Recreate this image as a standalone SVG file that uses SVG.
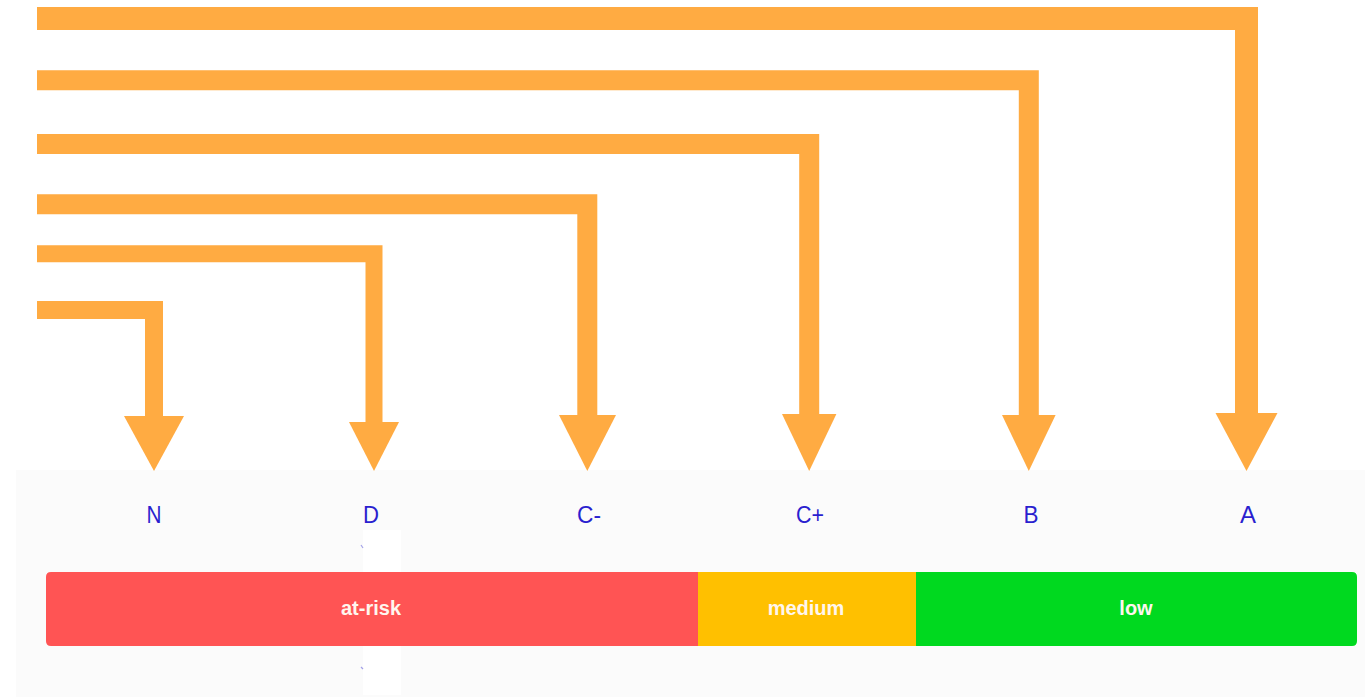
<svg xmlns="http://www.w3.org/2000/svg" width="1365" height="697" viewBox="0 0 1365 697">
<style>
.conn{fill:none;stroke:#ffab42;stroke-linejoin:miter;stroke-linecap:butt}
.head{fill:#ffab42}
.grade{font-family:"Liberation Sans",Arial,sans-serif;font-size:24px;fill:#2a1fcf;text-anchor:middle}
.band{font-family:"Liberation Sans",Arial,sans-serif;font-size:20px;font-weight:bold;fill:#fff6ee;text-anchor:middle}
</style>
<rect x="0" y="0" width="1365" height="697" fill="#ffffff"/>
<rect x="16" y="470" width="1349" height="227" fill="#fbfbfb"/>
<rect x="363" y="530" width="38" height="165" fill="#ffffff"/>
<g id="connectors">
<path class="conn" stroke-width="18" d="M37,310 H154 V418"/>
<polygon class="head" points="124,416 184,416 154,471"/>
<path class="conn" stroke-width="17" d="M37,253.7 H374 V424"/>
<polygon class="head" points="349,422 399,422 374,471"/>
<path class="conn" stroke-width="20" d="M37,204.3 H587.3 V417"/>
<polygon class="head" points="559,415 616,415 587.3,471"/>
<path class="conn" stroke-width="20" d="M37,144 H809.2 V416"/>
<polygon class="head" points="782,414 836.4,414 809.2,471"/>
<path class="conn" stroke-width="20" d="M37,80.3 H1028.8 V417"/>
<polygon class="head" points="1002,415 1055.6,415 1028.8,471"/>
<path class="conn" stroke-width="23" d="M37,18.5 H1246.5 V415"/>
<polygon class="head" points="1215.5,413 1277.5,413 1246.5,471"/>
</g>
<g id="grade-N"><text class="grade" x="154" y="523" textLength="15" lengthAdjust="spacingAndGlyphs">N</text></g>
<g id="grade-D"><text class="grade" x="371" y="523" textLength="16" lengthAdjust="spacingAndGlyphs">D</text></g>
<g id="grade-Cminus"><text class="grade" x="589" y="523" textLength="24" lengthAdjust="spacingAndGlyphs">C-</text></g>
<g id="grade-Cplus"><text class="grade" x="810" y="523" textLength="28" lengthAdjust="spacingAndGlyphs">C+</text></g>
<g id="grade-B"><text class="grade" x="1031" y="523" textLength="15" lengthAdjust="spacingAndGlyphs">B</text></g>
<g id="grade-A"><text class="grade" x="1248" y="523" textLength="16" lengthAdjust="spacingAndGlyphs">A</text></g>
<g id="ticks" stroke="#6a66dd" stroke-width="1.2" opacity="0.6">
<line x1="361" y1="545" x2="363" y2="548"/>
<line x1="361" y1="667" x2="363" y2="669"/>
</g>
<g id="band-at-risk">
<path d="M51,572 H698 V646 H51 Q46,646 46,641 V577 Q46,572 51,572 Z" fill="#ff5454"/>
<text class="band" x="371" y="615">at-risk</text>
</g>
<g id="band-medium">
<rect x="698" y="572" width="218" height="74" fill="#ffc000"/>
<text class="band" x="806" y="615">medium</text>
</g>
<g id="band-low">
<path d="M916,572 H1352 Q1357,572 1357,577 V641 Q1357,646 1352,646 H916 Z" fill="#00d91f"/>
<text class="band" x="1136" y="615">low</text>
</g>
</svg>
